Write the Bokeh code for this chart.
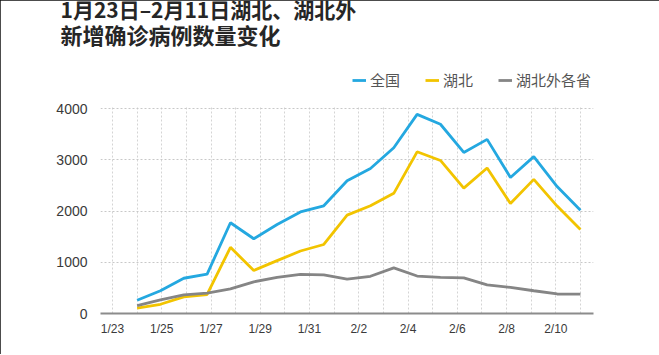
from bokeh.plotting import figure
from bokeh.models import (Legend, LegendItem, Title, FixedTicker, ColumnDataSource,
                          Range1d, BoxAnnotation)
from bokeh.embed import file_html
from bokeh.resources import INLINE

# ---- data ----
dates = ["1/23", "1/24", "1/25", "1/26", "1/27", "1/28", "1/29", "1/30", "1/31",
         "2/1", "2/2", "2/3", "2/4", "2/5", "2/6", "2/7", "2/8", "2/9", "2/10", "2/11"]
national = [259, 444, 688, 769, 1771, 1459, 1737, 1982, 2102, 2590,
            2829, 3235, 3887, 3694, 3143, 3399, 2656, 3062, 2478, 2015]
hubei = [105, 180, 323, 371, 1291, 840, 1032, 1220, 1347, 1921,
         2103, 2345, 3156, 2987, 2447, 2841, 2147, 2618, 2097, 1638]
outside = [154, 264, 365, 398, 480, 619, 705, 762, 755, 669,
           726, 890, 731, 707, 696, 558, 509, 444, 381, 377]
series_names = ["全国", "湖北", "湖北外各省"]
y_ticks = [0, 1000, 2000, 3000, 4000]
title_lines = ["1月23日–2月11日湖北、湖北外", "新增确诊病例数量变化"]

# In the original graphic the series are drawn from the 1/24 gridline to the
# 2/11 gridline (20 points squeezed into 19 day slots).
n = len(dates)
xpos = [1 + i * (n - 2) / (n - 1) for i in range(n)]

src = ColumnDataSource(dict(x=xpos, national=national, hubei=hubei, outside=outside))

p = figure(width=659, height=354, output_backend="svg", toolbar_location=None,
           x_range=Range1d(-0.487, 19.53), y_range=Range1d(0, 5153),
           min_border_left=100, min_border_right=66, min_border_top=0, min_border_bottom=41,
           background_fill_color="white", border_fill_color="white")
p.styles = {"outline": "2px solid #111", "outline-offset": "-2px"}
p.outline_line_color = None

r1 = p.line("x", "national", source=src, line_color="#24a8e0", line_width=2.8)
r2 = p.line("x", "hubei", source=src, line_color="#f2c400", line_width=2.8)
r3 = p.line("x", "outside", source=src, line_color="#858585", line_width=2.8)

# axes
p.yaxis.ticker = FixedTicker(ticks=y_ticks)
p.yaxis.axis_line_color = None
p.yaxis.major_tick_line_color = None
p.yaxis.minor_tick_line_color = None
p.yaxis.major_label_standoff = 7
p.yaxis.major_label_text_font = "Liberation Sans"
p.yaxis.major_label_text_font_size = "14px"
p.yaxis.major_label_text_color = "#3a3a3a"

label_idx = list(range(0, n - 1, 2))
p.xaxis.ticker = FixedTicker(ticks=label_idx)
p.xaxis.major_label_overrides = {i: dates[i] for i in label_idx}
p.xaxis.axis_line_color = "#8c8c8c"
p.xaxis.axis_line_width = 2
p.xaxis.major_tick_line_color = None
p.xaxis.minor_tick_line_color = None
p.xaxis.major_label_standoff = 2
p.xaxis.major_label_text_font = "Liberation Sans"
p.xaxis.major_label_text_font_size = "12px"
p.xaxis.major_label_text_color = "#3a3a3a"

p.xgrid.ticker = FixedTicker(ticks=list(range(n)))
p.xgrid.grid_line_color = "#d4d4d4"
p.xgrid.grid_line_dash = "2 2"
p.ygrid.ticker = FixedTicker(ticks=y_ticks[1:])
p.ygrid.grid_line_color = "#c8c8c8"
p.ygrid.grid_line_dash = "2 2"

# blank band above the grid, where the legend sits
p.add_layout(BoxAnnotation(bottom=y_ticks[-1] + 45, fill_color="white", fill_alpha=1,
                           line_color=None))

legend = Legend(items=[LegendItem(label=series_names[0], renderers=[r1]),
                       LegendItem(label=series_names[1], renderers=[r2]),
                       LegendItem(label=series_names[2], renderers=[r3])],
                orientation="horizontal", location=(252, 223),
                border_line_color=None, background_fill_alpha=0,
                padding=0, margin=0, spacing=25, glyph_width=14, glyph_height=16,
                label_height=16, label_standoff=4, label_text_font_size="15px",
                label_text_color="#555555", label_text_font="Noto Sans CJK SC")
p.add_layout(legend)

p.add_layout(Title(text=title_lines[1], align="left", offset=-40, standoff=0,
                   text_font="Noto Sans CJK SC", text_font_size="22px",
                   text_font_style="bold", text_color="#262626"), "above")
p.add_layout(Title(text=title_lines[0], align="left", offset=-40, standoff=-17,
                   text_font="Noto Sans CJK SC", text_font_size="21px",
                   text_font_style="bold", text_color="#262626"), "above")

open("out.html", "w").write(file_html(p, INLINE))
